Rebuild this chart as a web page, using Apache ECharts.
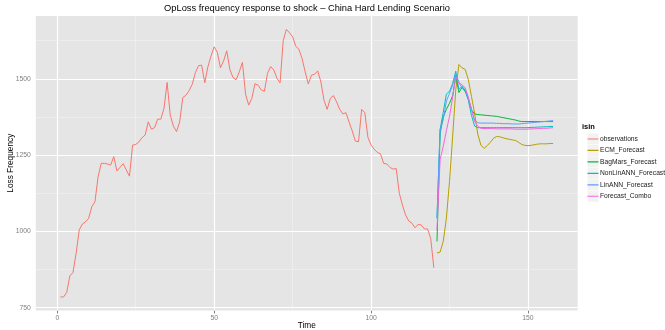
<!DOCTYPE html>
<html><head><meta charset="utf-8">
<script src="https://cdn.jsdelivr.net/npm/echarts@6/dist/echarts.min.js"></script>
<style>html,body{margin:0;padding:0;background:#fff}#c{width:665px;height:330px}</style>
</head><body><div id="c"></div>
<script>
// ---- data ----
const observations = [
  785, 785, 800, 854, 865, 928, 1005, 1024, 1031, 1043,
  1081, 1097, 1179, 1223, 1223, 1221, 1217, 1245, 1198, 1210,
  1222, 1201, 1181, 1283, 1285, 1293, 1307, 1316, 1359, 1335,
  1340, 1368, 1368, 1403, 1488, 1381, 1345, 1327, 1359, 1439,
  1446, 1461, 1482, 1520, 1543, 1545, 1487, 1540, 1575, 1605,
  1587, 1536, 1559, 1592, 1531, 1504, 1497, 1523, 1554, 1450,
  1414, 1436, 1484, 1479, 1464, 1459, 1518, 1540, 1529, 1502,
  1487, 1625, 1662, 1651, 1638, 1607, 1597, 1567, 1523, 1483,
  1512, 1515, 1526, 1490, 1430, 1400, 1436, 1445, 1425, 1400,
  1385, 1389, 1358, 1329, 1296, 1294, 1400, 1389, 1308, 1283,
  1269, 1259, 1254, 1223, 1221, 1210, 1204, 1206, 1125, 1086,
  1054, 1034, 1027, 1012, 1023, 1021, 1008, 1008, 977, 881
];
const ecmForecast = [
  929, 932, 967, 1043, 1164, 1312, 1465, 1547, 1536, 1531,
  1497, 1442, 1387, 1319, 1283, 1272, 1281, 1292, 1305, 1311,
  1310, 1307, 1304, 1302, 1300, 1298, 1292, 1285, 1282, 1281,
  1282, 1284, 1286, 1287, 1287, 1287, 1288, 1288
];
const bagMarsForecast = [
  967, 1320, 1375, 1400, 1420, 1445, 1510, 1455, 1472, 1458,
  1434, 1399, 1385, 1383, 1382, 1381, 1380, 1379, 1378, 1377,
  1375, 1373, 1371, 1369, 1367, 1365, 1362, 1360, 1360, 1360,
  1360, 1360, 1360, 1360, 1360, 1360, 1360, 1360
];
const nonLinAnnForecast = [
  1043, 1334, 1390, 1450, 1459, 1485, 1525, 1465, 1476, 1462,
  1430, 1380, 1345, 1340, 1340, 1340, 1340, 1340, 1340, 1340,
  1340, 1340, 1340, 1340, 1340, 1340, 1340, 1340, 1340, 1340,
  1341, 1341, 1342, 1342, 1343, 1343, 1344, 1344
];
const linAnnForecast = [
  1043, 1334, 1366, 1427, 1452, 1480, 1515, 1490, 1470, 1465,
  1435, 1400, 1365, 1356, 1355, 1355, 1355, 1355, 1355, 1354,
  1354, 1353, 1353, 1353, 1352, 1352, 1352, 1353, 1354, 1355,
  1356, 1357, 1358, 1359, 1360, 1361, 1362, 1363
];
const forecastCombo = [
  1005, 1235, 1279, 1330, 1377, 1440, 1505, 1485, 1481, 1470,
  1440, 1400, 1360, 1345, 1338, 1337, 1337, 1337, 1337, 1336,
  1336, 1336, 1336, 1336, 1336, 1335, 1335, 1335, 1335, 1335,
  1336, 1336, 1337, 1337, 1338, 1338, 1339, 1340
];
const obsStartTime = 1;
const forecastStartTime = 121;
const seriesNames = ['observations', 'ECM_Forecast', 'BagMars_Forecast', 'NonLinANN_Forecast', 'LinANN_Forecast', 'Forecast_Combo'];
const xTickLabels = [0, 50, 100, 150];
const xMinorBreaks = [25, 75, 125];
const yTickLabels = [750, 1000, 1250, 1500];
const yMinorBreaks = [875, 1125, 1375, 1625];
const titleText = 'OpLoss frequency response to shock \u2013 China Hard Lending Scenario';
const legendTitle = 'isin';
const xAxisTitle = 'Time';
const yAxisTitle = 'Loss Frequency';

// ---- styling ----
const colors = ['#F8766D', '#B79F00', '#00BA38', '#00BFC4', '#619CFF', '#F564E3'];
const FONT = '"Liberation Sans", Arial, Helvetica, sans-serif';
const LEG_LEFT = 587.5, LEG_TOP = 133.5, LEG_STEP = 11.45;
// line-shaped legend icon (tiny corner dots fix the bounding box)
const lineIcon = 'path://M0,0L0.01,0L0.01,0.01ZM0,4.9L11,4.9L11,6.1L0,6.1ZM10.99,10.99L11,10.99L11,11Z';

function pairs(start, vals) { return vals.map((v, i) => [start + i, v]); }
const seriesValues = [observations, ecmForecast, bagMarsForecast, nonLinAnnForecast, linAnnForecast, forecastCombo];
const seriesStarts = [obsStartTime, forecastStartTime, forecastStartTime, forecastStartTime, forecastStartTime, forecastStartTime];

const major = { color: '#FFFFFF', width: 1.2, type: 'solid' };
const minor = { color: '#F2F2F2', width: 0.6, type: 'solid' };
const gridLines = [];
xTickLabels.forEach(v => gridLines.push({ xAxis: v, lineStyle: major }));
xMinorBreaks.forEach(v => gridLines.push({ xAxis: v, lineStyle: minor }));
yTickLabels.forEach(v => gridLines.push({ yAxis: v, lineStyle: major }));
yMinorBreaks.forEach(v => gridLines.push({ yAxis: v, lineStyle: minor }));

const series = seriesNames.map((name, k) => {
  const s = {
    name, type: 'line', data: pairs(seriesStarts[k], seriesValues[k]),
    showSymbol: false, symbol: 'none', animation: false,
    lineStyle: { color: colors[k], width: 1 }, itemStyle: { color: colors[k] },
    z: 3 + k
  };
  if (k === 0) {
    s.markLine = { silent: true, symbol: 'none', z: 1, animation: false, label: { show: false },
      lineStyle: { type: 'solid' }, emphasis: { disabled: true }, data: gridLines };
  }
  return s;
});

const chart = echarts.init(document.getElementById('c'), null, { renderer: 'canvas' });
chart.setOption({
  animation: false,
  backgroundColor: '#FFFFFF',
  title: [
    { text: titleText, left: 307, top: 4, textAlign: 'center', padding: 0,
      textStyle: { fontFamily: FONT, fontSize: 9.3, fontWeight: 'normal', color: '#000' } },
    { text: legendTitle, left: 582, top: 123, padding: 0,
      textStyle: { fontFamily: FONT, fontSize: 7.5, fontWeight: 'bold', color: '#000' } }
  ],
  grid: { left: 35.8, right: 87.3, top: 16, bottom: 19.6, show: true, backgroundColor: '#E5E5E5',
    borderWidth: 0, outerBoundsMode: 'none', containLabel: false },
  xAxis: {
    type: 'value', min: -6.85, max: 165.85,
    name: xAxisTitle, nameLocation: 'middle', nameGap: 15.5, nameMoveOverlap: false,
    nameTextStyle: { fontFamily: FONT, fontSize: 8.3, color: '#000', verticalAlign: 'middle', padding: 0 },
    axisLine: { show: false },
    axisTick: { show: true, length: 3, customValues: xTickLabels, lineStyle: { color: '#7F7F7F', width: 1 } },
    axisLabel: { customValues: xTickLabels, margin: 4, fontFamily: FONT, fontSize: 6.8, color: '#7F7F7F',
      formatter: v => String(v) },
    splitLine: { show: false }
  },
  yAxis: {
    type: 'value', min: 741, max: 1706,
    name: yAxisTitle, nameLocation: 'middle', nameGap: 25.5, nameRotate: 90, nameMoveOverlap: false,
    nameTextStyle: { fontFamily: FONT, fontSize: 8.3, color: '#000', verticalAlign: 'middle', padding: 0 },
    axisLine: { show: false },
    axisTick: { show: true, length: 3, customValues: yTickLabels, lineStyle: { color: '#7F7F7F', width: 1 } },
    axisLabel: { customValues: yTickLabels, margin: 5, fontFamily: FONT, fontSize: 6.8, color: '#7F7F7F',
      formatter: v => String(v) },
    splitLine: { show: false }
  },
  legend: {
    orient: 'vertical', left: LEG_LEFT, top: LEG_TOP, padding: 0,
    itemWidth: 11, itemHeight: 11, itemGap: LEG_STEP - 11,
    icon: lineIcon,
    data: seriesNames,
    textStyle: { fontFamily: FONT, fontSize: 6.7, color: '#1A1A1A', padding: [0, 0, 0, -3.5] },
    selectedMode: false
  },
  graphic: seriesNames.map((n, i) => ({
    type: 'rect', left: LEG_LEFT, top: LEG_TOP + i * LEG_STEP, z: -1, silent: true,
    shape: { width: 11, height: 11 }, style: { fill: '#F2F2F2' }
  })),
  series
});
</script>
</body></html>
